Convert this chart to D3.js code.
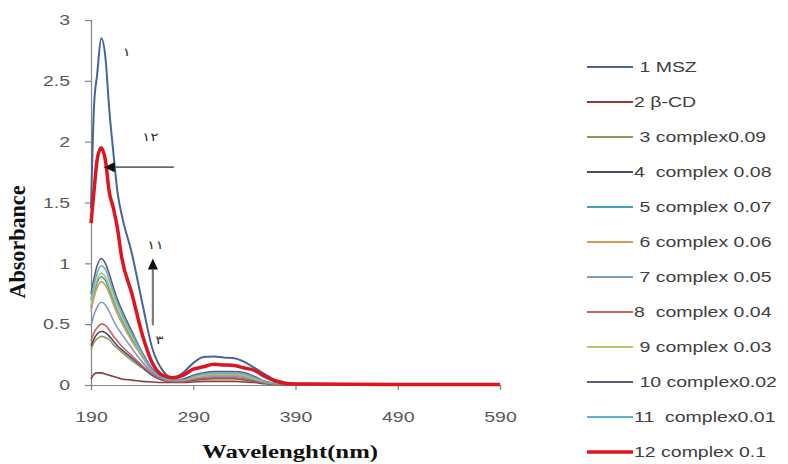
<!DOCTYPE html>
<html><head><meta charset="utf-8">
<script src="https://cdn.jsdelivr.net/npm/d3@7"></script>
<style>body{margin:0;background:#fff;} svg{display:block;}</style>
</head><body><svg id="chart" width="788" height="464"></svg>
<script>
// ---------- data ----------
const wavelengths = [190,193,196,200,204,208,212,216,220,230,240,250,260,270,280,290,300,310,320,330,340,350,360,370,380,390,490,590];
const s1_MSZ   = [1.45,2.30,2.55,2.85,2.70,2.25,1.90,1.58,1.40,1.08,0.68,0.30,0.12,0.06,0.10,0.18,0.23,0.235,0.225,0.22,0.19,0.14,0.09,0.04,0.015,0.01,0.005,0.005];
const s2_betaCD= [0.05,0.09,0.10,0.10,0.09,0.08,0.07,0.06,0.05,0.04,0.03,0.025,0.02,0.02,0.02,0.025,0.03,0.03,0.03,0.03,0.025,0.02,0.01,0.005,0.003,0.003,0.002,0.002];
const s3_c009  = [0.29,0.35,0.38,0.40,0.39,0.37,0.33,0.30,0.27,0.20,0.14,0.08,0.04,0.03,0.03,0.04,0.045,0.05,0.05,0.05,0.04,0.03,0.015,0.008,0.005,0.004,0.003,0.003];
const s4_c008  = [0.32,0.38,0.42,0.44,0.43,0.40,0.36,0.32,0.29,0.22,0.15,0.08,0.04,0.03,0.03,0.04,0.05,0.055,0.055,0.055,0.045,0.03,0.015,0.008,0.005,0.004,0.003,0.003];
const s5_c007  = [0.63,0.75,0.84,0.89,0.86,0.78,0.69,0.61,0.54,0.38,0.24,0.11,0.05,0.035,0.04,0.06,0.08,0.085,0.085,0.085,0.075,0.05,0.025,0.012,0.008,0.005,0.003,0.003];
const s6_c006  = [0.60,0.72,0.80,0.85,0.82,0.75,0.66,0.58,0.51,0.36,0.23,0.11,0.05,0.035,0.04,0.06,0.07,0.08,0.08,0.08,0.07,0.045,0.02,0.01,0.007,0.005,0.003,0.003];
const s7_c005  = [0.48,0.58,0.64,0.68,0.66,0.60,0.53,0.47,0.42,0.30,0.19,0.10,0.05,0.03,0.035,0.05,0.06,0.07,0.07,0.07,0.06,0.04,0.02,0.01,0.006,0.004,0.003,0.003];
const s8_c004  = [0.36,0.43,0.47,0.50,0.49,0.45,0.40,0.36,0.32,0.24,0.16,0.09,0.045,0.03,0.03,0.045,0.055,0.06,0.06,0.06,0.05,0.035,0.018,0.009,0.005,0.004,0.003,0.003];
const s9_c003  = [0.66,0.78,0.87,0.92,0.89,0.81,0.72,0.63,0.56,0.40,0.25,0.12,0.06,0.04,0.04,0.06,0.08,0.09,0.09,0.09,0.08,0.05,0.025,0.012,0.008,0.005,0.003,0.003];
const s10_c002 = [0.75,0.88,0.98,1.04,1.00,0.91,0.80,0.70,0.62,0.44,0.27,0.13,0.06,0.04,0.05,0.08,0.10,0.11,0.11,0.11,0.10,0.07,0.03,0.015,0.01,0.005,0.003,0.003];
const s11_c001 = [0.70,0.83,0.92,0.98,0.95,0.86,0.76,0.67,0.59,0.42,0.26,0.12,0.06,0.04,0.04,0.07,0.09,0.10,0.10,0.10,0.09,0.06,0.03,0.015,0.01,0.005,0.003,0.003];
const s12_c01  = [1.33,1.60,1.85,1.95,1.85,1.58,1.45,1.28,1.05,0.75,0.42,0.18,0.08,0.06,0.08,0.13,0.15,0.17,0.165,0.16,0.14,0.12,0.07,0.035,0.015,0.008,0.005,0.005];

const seriesLabels = [" 1 MSZ","2 β-CD"," 3 complex0.09","4  complex 0.08"," 5 complex 0.07"," 6 complex 0.06"," 7 complex 0.05","8  complex 0.04"," 9 complex 0.03"," 10 complex0.02","11  complex0.01","12 complex 0.1"];
const seriesValues = [s1_MSZ,s2_betaCD,s3_c009,s4_c008,s5_c007,s6_c006,s7_c005,s8_c004,s9_c003,s10_c002,s11_c001,s12_c01];
const xTicks = [190,290,390,490,590];
const yTicks = [0,0.5,1,1.5,2,2.5,3];
// annotations (data coords): labels and arrows
const annoLabels = [
  {text:"١",  w:225, a:2.74},
  {text:"١٢", w:248, a:2.04},
  {text:"١١", w:253, a:1.15},
  {text:"٣",  w:257, a:0.37}
];
const arrowH = {from:[271,1.79], to:[202.5,1.79]};
const arrowV = {from:[250.5,0.49], to:[250.5,1.04]};

// ---------- style ----------
const colors = ["#44659a","#8e3b3b","#8c9c5a","#4e4670","#3fa0b8","#d49a5a","#7b9cc4","#c8625f","#b8c46c","#5d5a78","#5db0d0","#e0141e"];
const widths = [2,1.6,1.6,1.6,1.6,1.6,1.6,1.6,1.6,1.6,1.6,3.5];
const SX = 1.3; // horizontal text stretch of the original picture

const svg = d3.select("#chart");
const x = d3.scaleLinear().domain([190,590]).range([91,500]);
const y = d3.scaleLinear().domain([0,3]).range([385,20]);

const series = seriesLabels.map((name,i)=>({name, color:colors[i], width:widths[i],
  points: wavelengths.map((w,j)=>({w, a:seriesValues[i][j]}))}));

// axes
const yAxis = svg.append("g").attr("transform",`translate(${x(190)},0)`)
  .call(d3.axisLeft(y).tickValues(yTicks).tickSize(6).tickFormat(d3.format("")));
const xAxis = svg.append("g").attr("transform",`translate(0,${y(0)})`)
  .call(d3.axisBottom(x).tickValues(xTicks).tickSize(5).tickFormat(d3.format("")));
[yAxis,xAxis].forEach(g=>{
  g.select(".domain").attr("stroke","#868686").attr("stroke-width",1.2);
  g.selectAll(".tick line").attr("stroke","#868686").attr("stroke-width",1.2);
  g.selectAll("text").attr("font-family","Liberation Sans, Arial, sans-serif")
    .attr("font-size",15).attr("fill","#595959");
});
yAxis.selectAll("text").attr("x",-21/SX).attr("transform",`scale(${SX},1)`);
xAxis.selectAll("text").attr("y",26).attr("transform",`scale(${SX},1)`);

// lines
const line = d3.line().x(d=>x(d.w)).y(d=>y(d.a)).curve(d3.curveMonotoneX);
const order = [1,2,3,4,5,6,7,8,9,10,0,11];
svg.append("g").selectAll("path").data(order.map(i=>series[i])).join("path")
  .attr("d",d=>line(d.points)).attr("fill","none")
  .attr("stroke",d=>d.color).attr("stroke-width",d=>d.width)
  .attr("stroke-linejoin","round");

// annotations
svg.append("g").selectAll("text").data(annoLabels).join("text")
  .attr("transform",d=>`translate(${x(d.w)},${y(d.a)}) scale(${SX},1)`)
  .attr("text-anchor","middle").attr("dy","0.35em")
  .attr("font-family","DejaVu Sans, sans-serif").attr("font-size",12).attr("fill","#333")
  .text(d=>d.text);

function arrow(a, shaftColor, shaftW){
  const x1=x(a.from[0]), y1=y(a.from[1]), x2=x(a.to[0]), y2=y(a.to[1]);
  const ang=Math.atan2(y2-y1,x2-x1), L=11, W=5;
  const bx=x2-L*Math.cos(ang), by=y2-L*Math.sin(ang);
  svg.append("line").attr("x1",x1).attr("y1",y1).attr("x2",bx).attr("y2",by)
    .attr("stroke",shaftColor).attr("stroke-width",shaftW);
  const px=-Math.sin(ang)*W, py=Math.cos(ang)*W;
  svg.append("path").attr("d",`M${x2},${y2}L${bx+px},${by+py}L${bx-px},${by-py}Z`).attr("fill","#111");
}
arrow(arrowH,"#6a6a6a",1.8);
arrow(arrowV,"#7a7a7a",2.2);

// axis titles
svg.append("text").attr("x",x(390)-0).attr("y",458).attr("text-anchor","middle")
  .attr("font-family","Liberation Serif, Times New Roman, serif").attr("font-weight","bold")
  .attr("font-size",19).attr("fill","#111").attr("textLength",176).attr("lengthAdjust","spacingAndGlyphs")
  .text("Wavelenght(nm)").attr("x",290);
svg.append("text").attr("transform","translate(25,242) scale(1.25,1) rotate(-90)")
  .attr("text-anchor","middle")
  .attr("font-family","Liberation Serif, Times New Roman, serif").attr("font-weight","bold")
  .attr("font-size",18).attr("fill","#111").attr("textLength",113).attr("lengthAdjust","spacingAndGlyphs")
  .text("Absorbance");

// legend
const leg = svg.append("g").selectAll("g").data(series).join("g")
  .attr("transform",(d,i)=>`translate(587,${67+i*35})`);
leg.append("line").attr("x1",0).attr("x2",46).attr("y1",0).attr("y2",0)
  .attr("stroke",d=>d.color).attr("stroke-width",(d,i)=>i===11?3.5:1.8);
leg.append("text").attr("transform",`translate(47,0) scale(${SX},1)`).attr("dy","0.35em")
  .attr("font-family","Liberation Sans, Arial, sans-serif").attr("font-size",15).attr("fill","#404040")
  .style("white-space","pre").text(d=>d.name);
</script></body></html>
